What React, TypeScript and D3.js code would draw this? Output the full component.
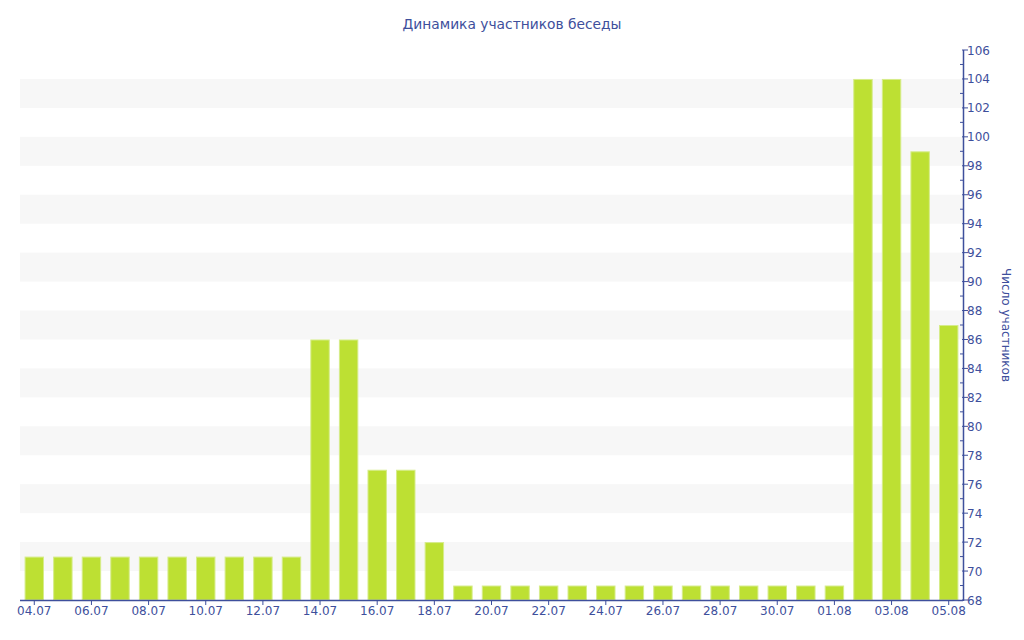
import React from "react";
import * as d3 from "d3";

const dates = [
  "04.07","05.07","06.07","07.07","08.07","09.07","10.07","11.07","12.07","13.07",
  "14.07","15.07","16.07","17.07","18.07","19.07","20.07","21.07","22.07","23.07",
  "24.07","25.07","26.07","27.07","28.07","29.07","30.07","31.07","01.08","02.08",
  "03.08","04.08","05.08",
];
const members = [
  71,71,71,71,71,71,71,71,71,71,
  86,86,77,77,72,69,69,69,69,69,
  69,69,69,69,69,69,69,69,69,104,
  104,99,87,
];
const yMin = 68;
const yMax = 106;
const title = "Динамика участников беседы";
const yTitle = "Число участников";

const W = 1024, H = 640;
const L = 20, R = 963, T = 50, B = 600;
const blue = "#3e4f9c";
const font = "DejaVu Sans, Verdana, sans-serif";

export default function App() {
  const x = d3.scaleBand<string>().domain(dates).range([L, R]).paddingInner(0.32).paddingOuter(0.16);
  const y = d3.scaleLinear().domain([yMin, yMax]).range([B, T]);
  const majors = d3.range(yMin, yMax + 1, 2);
  const minors = d3.range(yMin + 1, yMax, 2);
  const bands = d3.range(70, 104, 4);
  return (
    <svg width={W} height={H} style={{ position: "absolute", left: 0, top: 0, background: "#fff" }}>
      {bands.map((b) => (
        <rect key={b} x={L} width={R - L} y={y(b + 2)} height={y(b) - y(b + 2)} fill="#f7f7f7" />
      ))}
      {dates.map((d, i) => (
        <rect
          key={d}
          x={x(d)! + 0.5}
          width={x.bandwidth() - 1}
          y={y(members[i]) + 0.5}
          height={B - y(members[i]) - 0.5}
          fill="#bde033"
          stroke="#d6ec8a"
          strokeWidth={1}
        />
      ))}
      <line x1={L} x2={R} y1={B + 0.5} y2={B + 0.5} stroke={blue} strokeWidth={1.5} />
      {dates.map((d, i) =>
        i % 2 === 0 ? (
          <g key={d}>
            <line x1={x(d)! + x.bandwidth() / 2} x2={x(d)! + x.bandwidth() / 2} y1={B} y2={B + 5} stroke={blue} />
            <text x={x(d)! + x.bandwidth() / 2} y={B + 15} textAnchor="middle" fontSize={12} fill={blue} fontFamily={font}>
              {d}
            </text>
          </g>
        ) : null
      )}
      <line x1={R + 0.5} x2={R + 0.5} y1={T} y2={B + 1} stroke={blue} strokeWidth={1.5} />
      {majors.map((v) => (
        <g key={v}>
          <line x1={R - 1} x2={R + 5} y1={y(v)} y2={y(v)} stroke={blue} />
          <text x={R + 4} y={y(v) + 4.5} fontSize={12} fill={blue} fontFamily={font}>
            {v}
          </text>
        </g>
      ))}
      {minors.map((v) => (
        <line key={v} x1={R - 3} x2={R} y1={y(v)} y2={y(v)} stroke={blue} />
      ))}
      <text x={W / 2} y={29} textAnchor="middle" fontSize={13.8} fill={blue} fontFamily={font}>
        {title}
      </text>
      <text
        transform={`translate(1002, ${(T + B) / 2 + 0}) rotate(90)`}
        textAnchor="middle"
        fontSize={12}
        fill={blue}
        fontFamily={font}
      >
        {yTitle}
      </text>
    </svg>
  );
}
